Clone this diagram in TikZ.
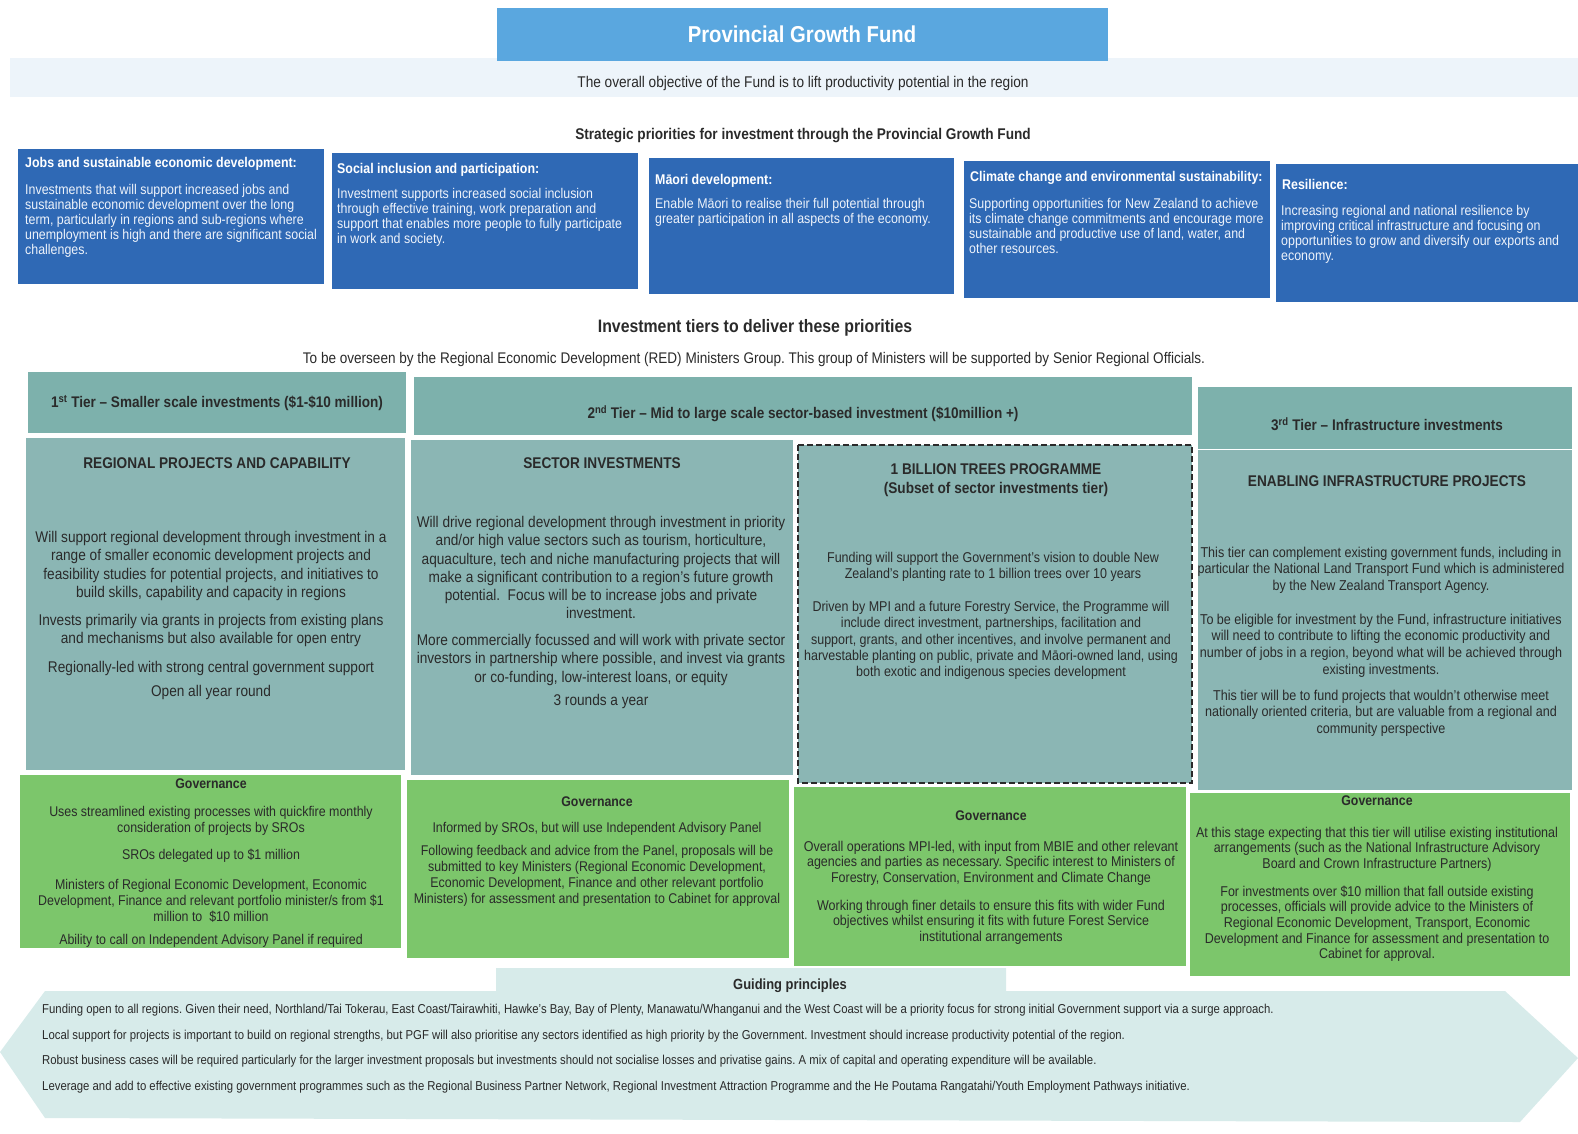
\documentclass[tikz,border=0pt]{standalone}
\usepackage{fontspec}
\setmainfont{Liberation Sans}[FakeStretch=0.88]
\frenchspacing
\newcommand\setfs[2]{\fontsize{#1}{#2}\selectfont}
\definecolor{titleblue}{HTML}{5AA7DF}
\definecolor{hazeblue}{HTML}{EDF4FA}
\definecolor{prioblue}{HTML}{2F69B5}
\definecolor{priotext}{HTML}{EEF3FB}
\definecolor{tierteal}{HTML}{7DB1AC}
\definecolor{bodyteal}{HTML}{8BB6B4}
\definecolor{govgreen}{HTML}{7CC66B}
\definecolor{guidefill}{HTML}{D7EBEA}
\definecolor{textdark}{HTML}{2A2A2A}
\begin{document}
\begin{tikzpicture}[x=1pt,y=-1pt,
  prio/.style={fill=prioblue},
  tierhead/.style={fill=tierteal},
  tierbody/.style={fill=bodyteal},
  govbox/.style={fill=govgreen},
  phead/.style={anchor=west,inner sep=0,text=white,font=\setfs{14.1}{15}\bfseries},
  ptext/.style={anchor=north west,inner sep=0,align=left,text=priotext,font=\setfs{14.1}{15}},
  heading/.style={inner sep=0,text=textdark,font=\setfs{15.5}{17}\bfseries},
  plain/.style={inner sep=0,text=textdark,font=\setfs{15.5}{17}},
  ttext/.style={inner sep=0,text=textdark,font=\setfs{15.4}{17}\bfseries},
  ctitle/.style={inner sep=0,align=center,text=textdark,font=\setfs{15.5}{19}\bfseries},
  bodyA/.style={inner sep=0,align=center,text=textdark,font=\setfs{15.5}{18.3}},
  bodyB/.style={inner sep=0,align=center,text=textdark,font=\setfs{14.2}{16.3}},
  bodyC/.style={inner sep=0,align=center,text=textdark,font=\setfs{14.3}{16.8}},
  govtitle/.style={inner sep=0,text=textdark,font=\setfs{14}{16}\bfseries},
  govA/.style={inner sep=0,align=center,text=textdark,font=\setfs{14.1}{16}},
  govB/.style={inner sep=0,align=center,text=textdark,font=\setfs{14.2}{15.6}},
  gline/.style={anchor=west,inner sep=0,text=textdark,font=\setfs{12.9}{14}}]
\useasboundingbox (0,0) rectangle (1578,1133);

% header band and title
\fill[hazeblue] (10,58) rectangle (1578,97);
\fill[titleblue] (497,8) rectangle (1108,61);
\node[inner sep=0,text=white,font=\setfs{23}{26}\bfseries] (title) at (802,34) {Provincial Growth Fund};
\node[plain] (objective) at (803,83) {The overall objective of the Fund is to lift productivity potential in the region};
\node[heading] (strategic) at (803,136) {Strategic priorities for investment through the Provincial Growth Fund};

% strategic priority boxes
\fill[prio] (18,149) rectangle (324,284);
\fill[prio] (332,153) rectangle (638,289);
\fill[prio] (649,158) rectangle (954,294);
\fill[prio] (964,161) rectangle (1270,298);
\fill[prio] (1276,164) rectangle (1578,302);

\node[phead] (p1h) at (25,164) {Jobs and sustainable economic development:};
\node[ptext] (p1t) at (25,184.5) {Investments that will support increased jobs and\\ sustainable economic development over the long\\ term, particularly in regions and sub-regions where\\ unemployment is high and there are significant social\\ challenges.};
\node[phead] (p2h) at (337,170) {Social inclusion and participation:};
\node[ptext] (p2t) at (337,188.5) {Investment supports increased social inclusion\\ through effective training, work preparation and\\ support that enables more people to fully participate\\ in work and society.};
\node[phead] (p3h) at (655,181) {Māori development:};
\node[ptext] (p3t) at (655,198.5) {Enable Māori to realise their full potential through\\ greater participation in all aspects of the economy.};
\node[phead] (p4h) at (970,178) {Climate change and environmental sustainability:};
\node[ptext] (p4t) at (969,198.5) {Supporting opportunities for New Zealand to achieve\\ its climate change commitments and encourage more\\ sustainable and productive use of land, water, and\\ other resources.};
\node[phead] (p5h) at (1282,184) {Resilience:};
\node[ptext] (p5t) at (1281,205.5) {Increasing regional and national resilience by\\ improving critical infrastructure and focusing on\\ opportunities to grow and diversify our exports and\\ economy.};

% investment tiers
\node[heading,font=\setfs{18}{20}\bfseries] (tiers) at (755,328) {Investment tiers to deliver these priorities};
\node[plain,font=\setfs{15.4}{17}] (oversee) at (754,360) {To be overseen by the Regional Economic Development (RED) Ministers Group. This group of Ministers will be supported by Senior Regional Officials.};

\fill[tierhead] (28,372) rectangle (406,433);
\fill[tierhead] (414,377) rectangle (1192,435);
\fill[tierhead] (1198,387) rectangle (1572,449);
\node[ttext] (t1) at (217,403) {1\textsuperscript{st} Tier – Smaller scale investments (\$1-\$10 million)};
\node[ttext] (t2) at (803,414) {2\textsuperscript{nd} Tier – Mid to large scale sector-based investment (\$10million +)};
\node[ttext] (t3) at (1387,424) {3\textsuperscript{rd} Tier – Infrastructure investments};

\fill[tierbody] (26,438) rectangle (405,770);
\fill[tierbody] (411,440) rectangle (793,775);
\fill[tierbody] (798,445) rectangle (1192,783);
\draw[textdark,line width=1.3pt,dash pattern=on 6pt off 3pt] (798,445) rectangle (1192,783);
\fill[tierbody] (1198,450) rectangle (1572,790);

% tier 1 column
\node[ctitle] (b1title) at (217,463) {REGIONAL PROJECTS AND CAPABILITY};
\node[bodyA,anchor=north] (b1p1) at (211,531) {Will support regional development through investment in a\\ range of smaller economic development projects and\\ feasibility studies for potential projects, and initiatives to\\ build skills, capability and capacity in regions};
\node[bodyA,anchor=north] (b1p2) at (211,614) {Invests primarily via grants in projects from existing plans\\ and mechanisms but also available for open entry};
\node[bodyA] (b1p3) at (211,668) {Regionally-led with strong central government support};
\node[bodyA] (b1p4) at (211,692) {Open all year round};

% tier 2 column
\node[ctitle] (b2title) at (602,463) {SECTOR INVESTMENTS};
\node[bodyA,anchor=north] (b2p1) at (601,516) {Will drive regional development through investment in priority\\ and/or high value sectors such as tourism, horticulture,\\ aquaculture, tech and niche manufacturing projects that will\\ make a significant contribution to a region's future growth\\ potential.\ \ Focus will be to increase jobs and private\\ investment.};
\node[bodyA,anchor=north] (b2p2) at (601,634) {More commercially focussed and will work with private sector\\ investors in partnership where possible, and invest via grants\\ or co-funding, low-interest loans, or equity};
\node[bodyA] (b2p3) at (601,701) {3 rounds a year};

% one billion trees column
\node[ctitle,anchor=north] (b3title) at (996,463.4) {1 BILLION TREES PROGRAMME\\ (Subset of sector investments tier)};
\node[bodyB,anchor=north] (b3p1) at (993,552) {Funding will support the Government's vision to double New\\ Zealand's planting rate to 1 billion trees over 10 years};
\node[bodyB,anchor=north] (b3p2) at (991,601) {Driven by MPI and a future Forestry Service, the Programme will\\ include direct investment, partnerships, facilitation and\\ support, grants, and other incentives, and involve permanent and\\ harvestable planting on public, private and Māori-owned land, using\\ both exotic and indigenous species development};

% tier 3 column
\node[ctitle] (b4title) at (1387,481) {ENABLING INFRASTRUCTURE PROJECTS};
\node[bodyC,anchor=north] (b4p1) at (1381,546.6) {This tier can complement existing government funds, including in\\ particular the National Land Transport Fund which is administered\\ by the New Zealand Transport Agency.};
\node[bodyC,anchor=north] (b4p2) at (1381,613.6) {To be eligible for investment by the Fund, infrastructure initiatives\\ will need to contribute to lifting the economic productivity and\\ number of jobs in a region, beyond what will be achieved through\\ existing investments.};
\node[bodyC,anchor=north] (b4p3) at (1381,689.6) {This tier will be to fund projects that wouldn't otherwise meet\\ nationally oriented criteria, but are valuable from a regional and\\ community perspective};

% governance row
\fill[govbox] (20,775) rectangle (401,948);
\fill[govbox] (407,780) rectangle (789,958);
\fill[govbox] (794,787) rectangle (1186,966);
\fill[govbox] (1190,793) rectangle (1570,976);

\node[govtitle] (g1title) at (211,784) {Governance};
\node[govA,anchor=north] (g1p1) at (211,806) {Uses streamlined existing processes with quickfire monthly\\ consideration of projects by SROs};
\node[govA] (g1p2) at (211,856) {SROs delegated up to \$1 million};
\node[govA,anchor=north] (g1p3) at (211,879) {Ministers of Regional Economic Development, Economic\\ Development, Finance and relevant portfolio minister/s from \$1\\ million to\ \ \$10 million};
\node[govA] (g1p4) at (211,941) {Ability to call on Independent Advisory Panel if required};

\node[govtitle] (g2title) at (597,802) {Governance};
\node[govA] (g2p1) at (597,829) {Informed by SROs, but will use Independent Advisory Panel};
\node[govA,anchor=north] (g2p2) at (597,845) {Following feedback and advice from the Panel, proposals will be\\ submitted to key Ministers (Regional Economic Development,\\ Economic Development, Finance and other relevant portfolio\\ Ministers) for assessment and presentation to Cabinet for approval};

\node[govtitle] (g3title) at (991,816) {Governance};
\node[govB,anchor=north] (g3p1) at (991,840.6) {Overall operations MPI-led, with input from MBIE and other relevant\\ agencies and parties as necessary. Specific interest to Ministers of\\ Forestry, Conservation, Environment and Climate Change};
\node[govB,anchor=north] (g3p2) at (991,899.6) {Working through finer details to ensure this fits with wider Fund\\ objectives whilst ensuring it fits with future Forest Service\\ institutional arrangements};

\node[govtitle] (g4title) at (1377,801) {Governance};
\node[govB,anchor=north] (g4p1) at (1377,826.6) {At this stage expecting that this tier will utilise existing institutional\\ arrangements (such as the National Infrastructure Advisory\\ Board and Crown Infrastructure Partners)};
\node[govB,anchor=north] (g4p2) at (1377,885.6) {For investments over \$10 million that fall outside existing\\ processes, officials will provide advice to the Ministers of\\ Regional Economic Development, Transport, Economic\\ Development and Finance for assessment and presentation to\\ Cabinet for approval.};

% guiding principles banner
\fill[guidefill] (0,1052) -- (45,991) -- (496,991) -- (496,968) -- (1006,968) -- (1006,991)
  -- (1505,991) -- (1578,1058) -- (1520,1122) -- (45,1118) -- cycle;
\node[heading,font=\setfs{14.7}{17}\bfseries] (guiding) at (790,986) {Guiding principles};
\node[gline] (gp1) at (42,1010) {Funding open to all regions. Given their need, Northland/Tai Tokerau, East Coast/Tairawhiti, Hawke's Bay, Bay of Plenty, Manawatu/Whanganui and the West Coast will be a priority focus for strong initial Government support via a surge approach.};
\node[gline] (gp2) at (42,1036) {Local support for projects is important to build on regional strengths, but PGF will also prioritise any sectors identified as high priority by the Government. Investment should increase productivity potential of the region.};
\node[gline] (gp3) at (42,1061) {Robust business cases will be required particularly for the larger investment proposals but investments should not socialise losses and privatise gains. A mix of capital and operating expenditure will be available.};
\node[gline] (gp4) at (42,1087) {Leverage and add to effective existing government programmes such as the Regional Business Partner Network, Regional Investment Attraction Programme and the He Poutama Rangatahi/Youth Employment Pathways initiative.};
\end{tikzpicture}
\end{document}
